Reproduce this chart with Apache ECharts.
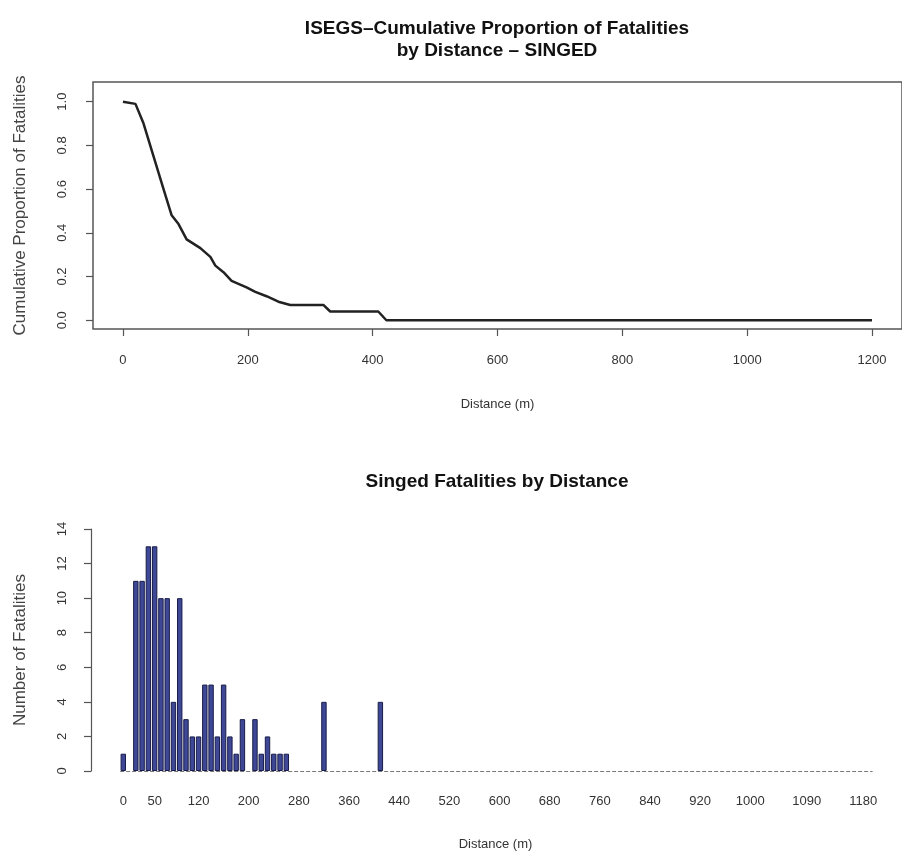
<!DOCTYPE html>
<html>
<head>
    <meta charset="utf-8">
    <title>ISEGS fatalities</title>
    <script src="https://cdn.jsdelivr.net/npm/echarts@6/dist/echarts.min.js"></script>
    <style>
        body { margin: 0; background: #fff; }
        #mychart { width: 902px; height: 852px; }
    </style>
</head>
<body>
<div id="mychart"></div>
<script>
    // top panel: cumulative proportion
    var cumDist = [0, 20, 33, 49, 65, 78, 89, 102, 124, 140, 148, 161, 174, 198, 212, 230, 249, 268, 321, 332, 409, 422, 1200];
    var cumProp = [1.0, 0.99, 0.90, 0.75, 0.60, 0.48, 0.44, 0.37, 0.33, 0.29, 0.25, 0.22, 0.18, 0.15, 0.13, 0.11, 0.085, 0.07, 0.07, 0.04, 0.04, 0.0, 0.0];
    var cumTicksX = [0, 200, 400, 600, 800, 1000, 1200];
    var cumTicksY = [0, 0.2, 0.4, 0.6, 0.8, 1.0];

    // bottom panel: 10 m bins, only non-empty bins listed
    var binDist = [0, 20, 30, 40, 50, 60, 70, 80, 90, 100, 110, 120, 130, 140, 150, 160, 170, 180, 190, 210, 220, 230, 240, 250, 260, 320, 410];
    var binCount = [1, 11, 11, 13, 13, 10, 10, 4, 10, 3, 2, 2, 5, 5, 2, 5, 2, 1, 3, 3, 1, 2, 1, 1, 1, 4, 4];
    var barTickLabels = [0, 50, 120, 200, 280, 360, 440, 520, 600, 680, 760, 840, 920, 1000, 1090, 1180];

    var font = '"Liberation Sans", Arial, sans-serif';
    var axisColor = '#555';
    var textColor = '#333';

    var lineData = [];
    for (var i = 0; i < cumDist.length; i++) {
        lineData.push([cumDist[i], cumProp[i]]);
    }
    var barData = [];
    for (var j = 0; j < binDist.length; j++) {
        barData.push([binDist[j], binCount[j]]);
    }

    function plain(v) { return String(v); }

    var myChart = echarts.init(document.getElementById('mychart'));
    var option = {
        animation: false,
        textStyle: {fontFamily: font},
        graphic: [
            {
                type: 'text', x: 497, y: 18,
                style: {
                    text: 'ISEGS\u2013Cumulative Proportion of Fatalities\nby Distance \u2013 SINGED',
                    font: 'bold 19px ' + font, fill: '#111',
                    textAlign: 'center', lineHeight: 22
                }
            },
            {
                type: 'text', x: 497, y: 472,
                style: {
                    text: 'Singed Fatalities by Distance',
                    font: 'bold 19px ' + font, fill: '#111',
                    textAlign: 'center'
                }
            }
        ],
        grid: [
            {left: 93, top: 82, width: 809, height: 247, show: true,
                borderColor: axisColor, borderWidth: 1.5, backgroundColor: 'transparent'},
            {left: 91, top: 529, width: 809, height: 243}
        ],
        xAxis: [
            {
                type: 'value', gridIndex: 0, min: -48, max: 1248,
                axisLine: {show: false, onZero: false},
                splitLine: {show: false},
                axisTick: {customValues: cumTicksX, length: 7, lineStyle: {color: axisColor, width: 1.2}},
                axisLabel: {customValues: cumTicksX, fontSize: 13, color: textColor, margin: 25, formatter: plain},
                name: 'Distance (m)', nameLocation: 'middle', nameGap: 69,
                nameTextStyle: {fontSize: 13, color: textColor}
            },
            {
                type: 'value', gridIndex: 1, min: -51.5, max: 1238.7,
                axisLine: {show: false, onZero: false},
                splitLine: {show: false},
                axisTick: {show: false},
                axisLabel: {customValues: barTickLabels, fontSize: 13, color: textColor, margin: 24, formatter: plain},
                name: 'Distance (m)', nameLocation: 'middle', nameGap: 67,
                nameTextStyle: {fontSize: 13, color: textColor}
            }
        ],
        yAxis: [
            {
                type: 'value', gridIndex: 0, min: -0.04, max: 1.09,
                axisLine: {show: false, onZero: false},
                splitLine: {show: false},
                axisTick: {customValues: cumTicksY, length: 7, lineStyle: {color: axisColor, width: 1.2}},
                axisLabel: {
                    customValues: cumTicksY, rotate: 90, fontSize: 13, color: textColor, margin: 24,
                    formatter: function (v) { return v.toFixed(1); }
                },
                name: 'Cumulative Proportion of Fatalities', nameLocation: 'middle', nameRotate: 90, nameGap: 64,
                nameTextStyle: {fontSize: 17, color: '#444'}
            },
            {
                type: 'value', gridIndex: 1, min: 0, max: 14, interval: 2,
                axisLine: {show: true, onZero: false, lineStyle: {color: axisColor, width: 1.2}},
                splitLine: {show: false},
                axisTick: {length: 7, lineStyle: {color: axisColor, width: 1.2}},
                axisLabel: {rotate: 90, fontSize: 13, color: textColor, margin: 22},
                name: 'Number of Fatalities', nameLocation: 'middle', nameRotate: 90, nameGap: 62,
                nameTextStyle: {fontSize: 17, color: '#444'}
            }
        ],
        series: [
            {
                type: 'line', xAxisIndex: 0, yAxisIndex: 0,
                data: lineData,
                showSymbol: false,
                lineStyle: {color: '#222', width: 2.5}
            },
            {
                type: 'bar', xAxisIndex: 1, yAxisIndex: 1,
                data: barData,
                barWidth: 5.4,
                itemStyle: {color: '#3e4896', borderColor: '#181c48', borderWidth: 1},
                markLine: {
                    silent: true, symbol: 'none', label: {show: false},
                    lineStyle: {color: '#777', width: 1, type: [4, 2]},
                    data: [[{coord: [-5, 0]}, {coord: [1195, 0]}]]
                }
            }
        ]
    };
    myChart.setOption(option);
</script>
</body>
</html>
